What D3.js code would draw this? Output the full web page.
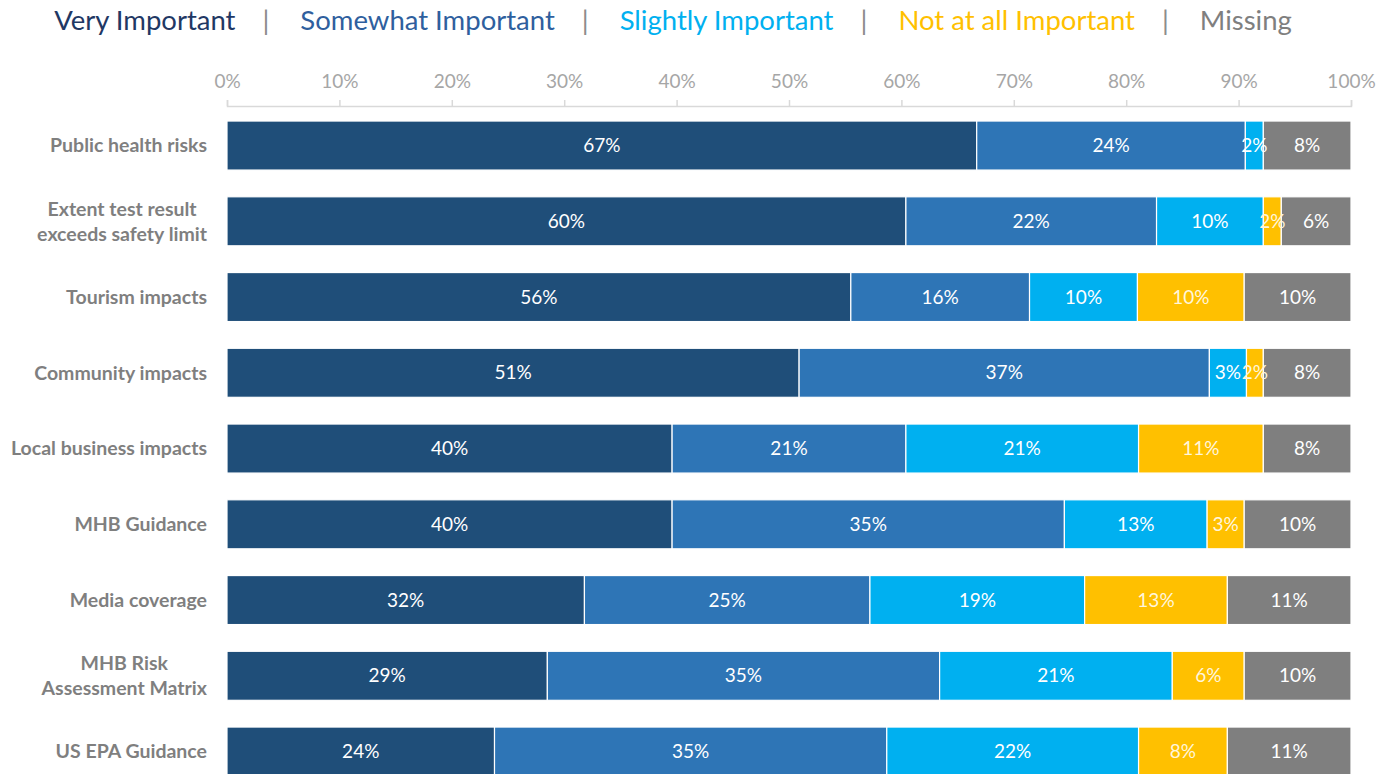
<!DOCTYPE html>
<html>
<head>
<meta charset="utf-8">
<script src="https://cdn.jsdelivr.net/npm/d3@7"></script>
<style>
  body { margin: 0; background: #fff; }
  svg { display: block; font-family: Lato, "Open Sans", sans-serif; }
</style>
</head>
<body>
<svg id="chart"></svg>
<script>
// categories and answers (percent of respondents)
const categories = [
  "Public health risks",
  "Extent test result|exceeds safety limit",
  "Tourism impacts",
  "Community impacts",
  "Local business impacts",
  "MHB Guidance",
  "Media coverage",
  "MHB Risk|Assessment Matrix",
  "US EPA Guidance"
];
const veryImportant     = [66.7, 60.4, 55.5, 50.9, 39.6, 39.6, 31.8, 28.5, 23.8];
const somewhatImportant = [23.9, 22.3, 15.9, 36.5, 20.8, 34.9, 25.4, 34.9, 34.9];
const slightlyImportant = [1.6, 9.5, 9.6, 3.3, 20.7, 12.7, 19.1, 20.7, 22.4];
const notAtAllImportant = [0, 1.6, 9.5, 1.5, 11.1, 3.3, 12.7, 6.4, 7.9];
const missing           = [7.8, 6.2, 9.5, 7.8, 7.8, 9.5, 11.0, 9.5, 11.0];

const seriesNames = ["Very Important", "Somewhat Important", "Slightly Important", "Not at all Important", "Missing"];
const xTicks = [0, 10, 20, 30, 40, 50, 60, 70, 80, 90, 100];

const colors = ["#1f4e79", "#2e75b6", "#00b0f0", "#ffc000", "#7f7f7f"];
const legendColors = ["#1f3864", "#2f5f9e", "#00b0f0", "#ffc000", "#7f7f7f"];
const labelColors = ["#ffffff", "#ffffff", "#ffffff", "#fff6dc", "#ffffff"];

const width = 1396;
const height = 774;

const svg = d3.select('svg#chart')
  .attr('width', width)
  .attr('height', height);

// build rows for d3.stack
const keys = seriesNames;
const table = categories.map((c, i) => ({
  cat: c,
  "Very Important": veryImportant[i],
  "Somewhat Important": somewhatImportant[i],
  "Slightly Important": slightlyImportant[i],
  "Not at all Important": notAtAllImportant[i],
  "Missing": missing[i]
}));
const stacked = d3.stack().keys(keys)(table);

const x = d3.scaleLinear()
  .domain([0, 100])
  .range([227, 1351]);

// step ~75.75px, bar ~49px
const y = d3.scaleBand()
  .domain(categories)
  .range([94.3, 802.8])
  .paddingInner(0.353)
  .paddingOuter(0.353);

// x axis on top
const gXAxis = svg.append('g')
  .attr('transform', 'translate(0, 106)');
const xAxis = d3.axisTop(x)
  .tickValues(xTicks)
  .tickSize(6)
  .tickPadding(12)
  .tickFormat(d => d + "%");
gXAxis.call(xAxis);
gXAxis.select('.domain').attr('stroke', '#d9d9d9').attr('stroke-width', 1.5);
gXAxis.selectAll('.tick line').attr('stroke', '#d9d9d9').attr('stroke-width', 1.5);
gXAxis.selectAll('.tick text')
  .attr('fill', '#a6a6a6')
  .style('font-size', '19px')
  .style('font-family', 'Lato, sans-serif');

// bars
const layers = svg.append('g')
  .selectAll('g')
  .data(stacked)
  .enter()
  .append('g')
    .attr('fill', (d, i) => colors[i]);

layers.selectAll('rect')
  .data(d => d)
  .enter()
  .append('rect')
    .attr('x', d => x(d[0]))
    .attr('y', d => y(d.data.cat))
    .attr('width', d => Math.max(0, x(d[1]) - x(d[0])))
    .attr('height', y.bandwidth())
    .attr('stroke', '#ffffff')
    .attr('stroke-width', 1.2);

// value labels
stacked.forEach((layer, si) => {
  svg.append('g')
    .selectAll('text')
    .data(layer.filter(d => d[1] - d[0] > 0))
    .enter()
    .append('text')
      .attr('x', d => x((d[0] + d[1]) / 2))
      .attr('y', d => y(d.data.cat) + y.bandwidth() / 2)
      .attr('dy', '0.35em')
      .attr('text-anchor', 'middle')
      .attr('fill', labelColors[si])
      .style('font-size', '19px')
      .text(d => Math.round(d[1] - d[0]) + "%");
});

// category labels, wrapped ones are centred on their widest line
const labelRight = 207;
categories.forEach(c => {
  const lines = c.split('|');
  const t = svg.append('text')
    .attr('fill', '#7f7f7f')
    .style('font-size', '19.5px')
    .style('font-weight', 'bold');
  const cy = y(c) + y.bandwidth() / 2;
  const lh = 25;
  lines.forEach((l, k) => {
    t.append('tspan')
      .attr('y', cy + (k - (lines.length - 1) / 2) * lh)
      .attr('dy', '0.35em')
      .text(l);
  });
  const spans = t.selectAll('tspan').nodes();
  const maxW = d3.max(spans, s => s.getComputedTextLength());
  if (lines.length > 1) {
    t.attr('text-anchor', 'middle');
    t.selectAll('tspan').attr('x', labelRight - maxW / 2);
  } else {
    t.attr('text-anchor', 'end');
    t.selectAll('tspan').attr('x', labelRight);
  }
});

// legend: names separated by grey bars, centred over the chart
const legend = svg.append('g');
let lx = 0;
seriesNames.forEach((name, i) => {
  if (i > 0) {
    const sep = legend.append('text')
      .attr('x', lx + 27)
      .attr('y', 30)
      .attr('fill', '#8c8c8c')
      .style('font-size', '27.5px')
      .text('|');
    lx += 27 + sep.node().getComputedTextLength() + 31;
  }
  const t = legend.append('text')
    .attr('x', lx)
    .attr('y', 30)
    .attr('fill', legendColors[i])
    .style('font-size', '27.5px')
    .text(name);
  lx += t.node().getComputedTextLength();
});
legend.attr('transform', `translate(${673 - lx / 2}, 0)`);
</script>
</body>
</html>
